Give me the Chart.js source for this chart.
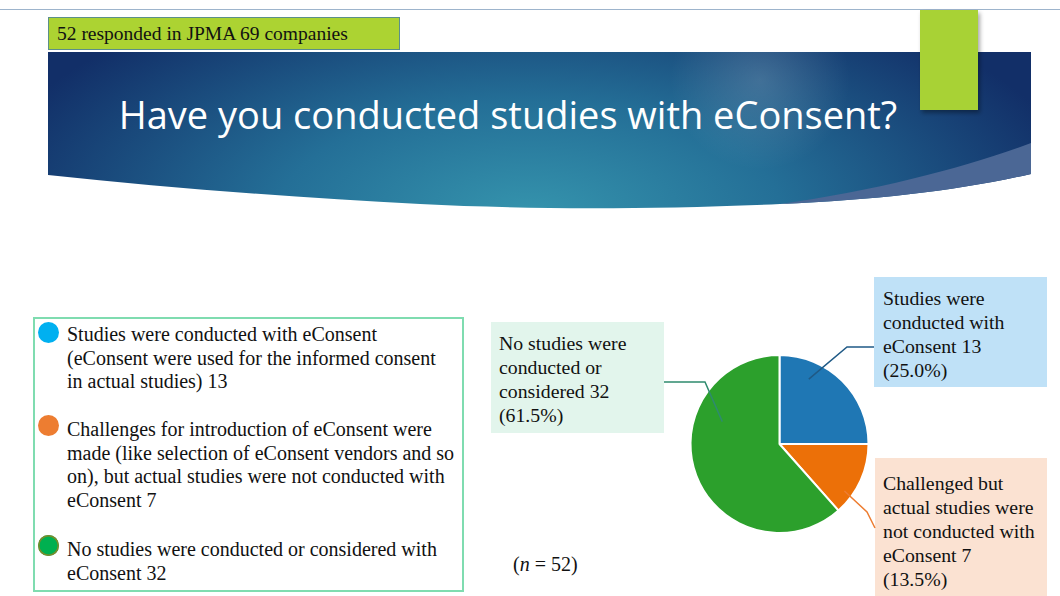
<!DOCTYPE html>
<html>
<head>
<meta charset="utf-8">
<script src="https://cdn.jsdelivr.net/npm/chart.js@4.4.0/dist/chart.umd.min.js"></script>
<style>
  html, body { margin: 0; padding: 0; background: #fff; }
  #slide { position: relative; width: 1060px; height: 596px; overflow: hidden; font-family: "Liberation Serif", "Times New Roman", serif; color: #111; }
  .abs { position: absolute; }
  #topline { left: 0; top: 9px; width: 1060px; height: 1px; background: #9db4cc; }
  #respBox { left: 48px; top: 17px; width: 352px; height: 33px; background: #acd332; border: 1px solid #5c8f8a; box-sizing: border-box; font-size: 19.5px; line-height: 32px; padding-left: 8px; }
  #title { left: 48px; width: 920px; top: 88px; text-align: center; color: #fff; font-family: "Open Sans", "Noto Sans", sans-serif; font-size: 38px; line-height: 52px; }
  #legendBox { left: 33px; top: 317px; width: 431px; height: 275px; border: 2px solid #7fdcb0; box-sizing: border-box; }
  .dot { width: 21px; height: 21px; border-radius: 50%; }
  .ltext { left: 67px; font-size: 20px; line-height: 23.6px; width: 400px; }
  .callout { font-size: 19.8px; line-height: 24px; }
  #chartCanvas { position: absolute; left: 0; top: 0; }
</style>
</head>
<body>
<div id="slide">
  <div id="topline" class="abs"></div>
  <svg class="abs" style="left:0;top:0" width="1060" height="240">
    <defs>
      <radialGradient id="bannerGrad" cx="530" cy="215" r="560" gradientUnits="userSpaceOnUse" gradientTransform="translate(530 215) scale(1 0.45) translate(-530 -215)">
        <stop offset="0" stop-color="#3594ad"/>
        <stop offset="0.45" stop-color="#246f97"/>
        <stop offset="1" stop-color="#122f68"/>
      </radialGradient>
      <radialGradient id="glow" cx="760" cy="80" r="90" gradientUnits="userSpaceOnUse">
        <stop offset="0" stop-color="#ffffff" stop-opacity="0.16"/>
        <stop offset="1" stop-color="#ffffff" stop-opacity="0"/>
      </radialGradient>
      <filter id="shadow" x="-30%" y="-30%" width="160%" height="160%">
        <feDropShadow dx="2" dy="3" stdDeviation="2" flood-color="#000" flood-opacity="0.35"/>
      </filter>
    </defs>
    <path d="M48,52 H1031 V174 C960,190 880,200 780,204 C640,210 520,209 420,204 C300,198 170,188 48,175 Z" fill="url(#bannerGrad)"/>
    <path d="M48,52 H1031 V174 C960,190 880,200 780,204 C640,210 520,209 420,204 C300,198 170,188 48,175 Z" fill="url(#glow)"/>
    <path d="M1031,143 L1031,174 C960,190 880,200 780,204 C880,190 970,166 1031,143 Z" fill="#4b6795"/>
    <rect x="920" y="10" width="58" height="100" fill="#a8d234" filter="url(#shadow)"/>
  </svg>
  <div id="respBox" class="abs">52 responded in JPMA 69 companies</div>
  <div id="title" class="abs">Have you conducted studies with eConsent?</div>

  <div id="legendBox" class="abs"></div>
  <div id="legendItems"></div>

  <div id="callouts"></div>
  <div class="abs" style="left:513px;top:552px;font-size:20px;line-height:24px;">(<i>n</i> = 52)</div>

  <canvas id="chartCanvas" width="1060" height="596"></canvas>
</div>

<script>
// chart data
const categories = ['Studies were conducted with eConsent', 'Challenged but actual studies were not conducted with eConsent', 'No studies were conducted or considered'];
const counts = [13, 7, 32];
const sliceColors = ['#1f77b4', '#ec7008', '#2ca02c'];

// callout text lines
const calloutLines = [
    ['Studies were', 'conducted with', 'eConsent 13', '(25.0%)'],
    ['Challenged but', 'actual studies were', 'not conducted with', 'eConsent 7', '(13.5%)'],
    ['No studies were', 'conducted or', 'considered 32', '(61.5%)']
];

// legend on the left
const legendLines = [
    ['Studies were conducted with eConsent', '(eConsent were used for the informed consent', 'in actual studies) 13'],
    ['Challenges for introduction of eConsent were', 'made (like selection of eConsent vendors and so', 'on), but actual studies were not conducted with', 'eConsent 7'],
    ['No studies were conducted or considered with', 'eConsent 32']
];
const legendDotColors = ['#00b0f0', '#ed7d31', '#00b050'];

const legendTops = [323, 418, 538];
const legendDotTops = [322, 415, 535];
const calloutBoxes = [
    { left: 874, top: 277, width: 173, height: 110, bg: '#bfe1f7', textTop: 286, textLeft: 883 },
    { left: 875, top: 458, width: 172, height: 140, bg: '#fbe2d2', textTop: 471, textLeft: 883 },
    { left: 491, top: 322, width: 173, height: 111, bg: '#e2f5ec', textTop: 331, textLeft: 499 }
];
// leader lines: where they leave the slice (fraction of angle / radius) and their path to the box
const leaders = [
    { t: 0.27, r: 0.8, path: [[847, 347], [874, 347]], color: '#1f5a86' },
    { t: 0.74, r: 0.9, path: [[867, 512], [875, 528]], color: '#ed7d31' },
    { t: 0.69, r: 0.69, path: [[705, 382], [664, 382]], color: '#2e8b6e' }
];

const legendWrap = document.getElementById('legendItems');
legendLines.forEach((lines, i) => {
    const dot = document.createElement('div');
    dot.className = 'abs dot';
    dot.style.left = '38px';
    dot.style.top = legendDotTops[i] + 'px';
    dot.style.background = legendDotColors[i];
    if (i === 2) dot.style.boxShadow = 'inset 0 0 0 1.5px #7d8a2a';
    legendWrap.append(dot);
    const txt = document.createElement('div');
    txt.className = 'abs ltext';
    txt.style.top = legendTops[i] + 'px';
    txt.innerHTML = lines.join('<br>');
    legendWrap.append(txt);
});

const calloutWrap = document.getElementById('callouts');
calloutBoxes.forEach((b, i) => {
    const box = document.createElement('div');
    box.className = 'abs';
    box.style.left = b.left + 'px';
    box.style.top = b.top + 'px';
    box.style.width = b.width + 'px';
    box.style.height = b.height + 'px';
    box.style.background = b.bg;
    calloutWrap.append(box);
    const txt = document.createElement('div');
    txt.className = 'abs callout';
    txt.style.left = b.textLeft + 'px';
    txt.style.top = b.textTop + 'px';
    txt.innerHTML = calloutLines[i].join('<br>');
    calloutWrap.append(txt);
});

const leaderPlugin = {
    id: 'leaders',
    afterDatasetsDraw(chart) {
        const ctx = chart.ctx;
        const arcs = chart.getDatasetMeta(0).data;
        arcs.forEach((arc, i) => {
            const L = leaders[i];
            if (!L) return;
            const a = arc.startAngle + L.t * (arc.endAngle - arc.startAngle);
            const rad = arc.outerRadius * L.r;
            ctx.save();
            ctx.strokeStyle = L.color;
            ctx.lineWidth = 1.5;
            ctx.beginPath();
            ctx.moveTo(arc.x + rad * Math.cos(a), arc.y + rad * Math.sin(a));
            L.path.forEach(p => ctx.lineTo(p[0], p[1]));
            ctx.stroke();
            ctx.restore();
        });
    }
};

const pieCtx = document.getElementById('chartCanvas').getContext('2d');
const pieChart = new Chart(pieCtx, {
    type: 'pie',
    data: {
        labels: categories,
        datasets: [{
            data: counts,
            backgroundColor: sliceColors,
            borderColor: '#ffffff',
            borderWidth: 2,
            hoverOffset: 0
        }]
    },
    options: {
        responsive: false,
        animation: false,
        radius: 89,
        layout: { padding: { left: 600, right: 101, top: 344, bottom: 52 } },
        plugins: {
            legend: { display: false },
            tooltip: { enabled: false }
        }
    },
    plugins: [leaderPlugin]
});
</script>
</body>
</html>
